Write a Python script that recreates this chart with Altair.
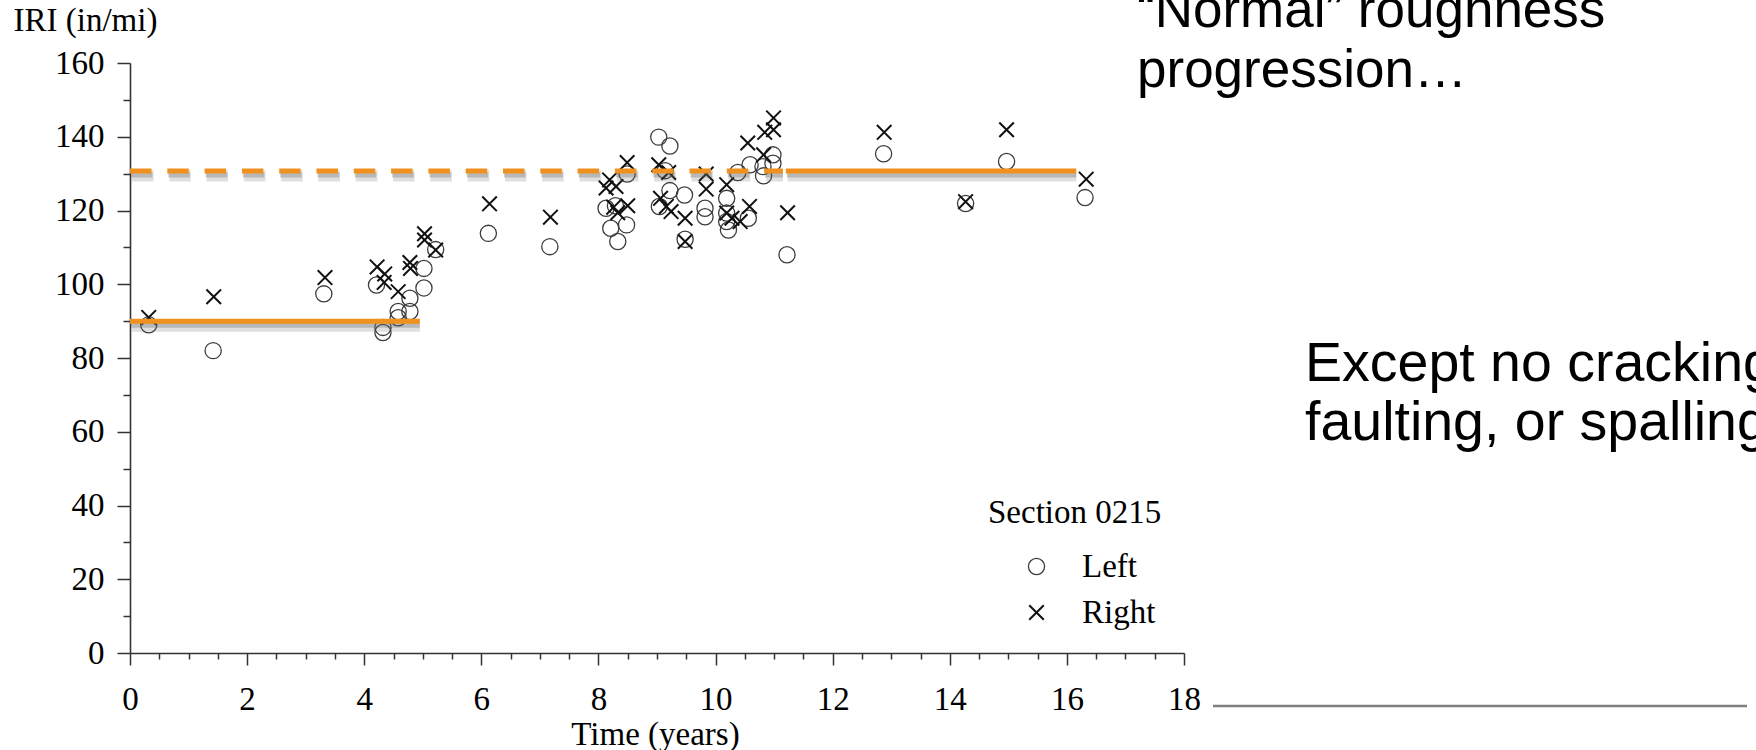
import altair as alt
import pandas as pd

# ---------------- data ----------------
side_names = ["Left", "Right"]

t_left = [0.32, 1.42, 3.31, 4.21, 4.32, 4.32, 4.58, 4.58, 4.78, 4.78, 5.02, 5.02, 5.22, 6.12, 7.17,
          8.13, 8.21, 8.29, 8.33, 8.48, 8.49,
          9.03, 9.04, 9.14, 9.22, 9.22, 9.47, 9.48,
          9.82, 9.82, 10.19, 10.19, 10.19, 10.22, 10.38,
          10.56, 10.59, 10.81, 10.82, 10.98, 10.98, 11.22,
          12.87, 14.27, 14.97, 16.31]
iri_left = [89.0, 82.0, 97.4, 99.8, 88.3, 86.9, 92.6, 90.9, 96.2, 92.6, 104.3, 99.0, 109.4, 113.8, 110.2,
            120.6, 115.2, 121.3, 111.6, 116.1, 129.9,
            139.9, 121.1, 130.8, 137.5, 125.4, 124.2, 112.2,
            120.6, 118.3, 123.3, 119.3, 117.0, 114.7, 130.3,
            117.9, 132.4, 131.9, 129.4, 135.1, 132.8, 108.0,
            135.4, 121.9, 133.3, 123.5]

t_right = [0.32, 1.43, 3.33, 4.22, 4.35, 4.34, 4.58, 4.78, 4.79, 5.03, 5.03, 5.22, 6.14, 7.18,
           8.13, 8.19, 8.26, 8.30, 8.33, 8.49, 8.50,
           9.03, 9.06, 9.16, 9.20, 9.24, 9.48, 9.48,
           9.84, 9.84, 10.19, 10.19, 10.28, 10.42, 10.55, 10.58,
           10.82, 10.84, 10.99, 10.99, 11.23,
           12.88, 14.27, 14.97, 16.33]
iri_right = [91.0, 96.6, 101.8, 104.7, 102.8, 100.5, 98.0, 105.9, 104.3, 113.7, 112.0, 109.3, 121.8, 118.2,
             126.1, 128.3, 120.9, 126.5, 119.4, 133.0, 121.3,
             132.4, 123.3, 121.1, 130.3, 119.7, 117.9, 111.6,
             129.9, 125.8, 127.0, 119.3, 117.9, 117.0, 138.3, 121.1,
             135.1, 141.2, 145.1, 141.9, 119.4,
             141.2, 122.4, 141.9, 128.5]

# orange reference segments
seg_start = [0.0, 0.0, 11.2]
seg_end = [4.95, 11.15, 16.16]
seg_level = [90.0, 130.7, 130.7]
seg_style = ["solid", "dashed", "solid"]

x_major = [0, 2, 4, 6, 8, 10, 12, 14, 16, 18]
x_minor = [v / 2 for v in range(1, 36) if v % 4 != 0]
y_major = [0, 20, 40, 60, 80, 100, 120, 140, 160]
y_minor = [10, 30, 50, 70, 90, 110, 130, 150]

legend_title = ["Section 0215"]
note_top = ["\u201cNormal\u201d roughness\nprogression\u2026"]
note_mid = ["Except no cracking,\nfaulting, or spalling"]

# ---------------- tables ----------------
pts = pd.DataFrame({
    "time": t_left + t_right,
    "iri": iri_left + iri_right,
    "side": [side_names[0]] * len(t_left) + [side_names[1]] * len(t_right),
})
segs = pd.DataFrame({"x0": seg_start, "x1": seg_end, "level": seg_level, "style": seg_style})

SERIF = "Liberation Serif"
SANS = "Liberation Sans"
ORANGE = "#F0911F"
AX = "#333333"
FS = 33
W, H = 1054, 590

xscale = alt.Scale(domain=[0, 18], nice=False, zero=True)
yscale = alt.Scale(domain=[0, 160], nice=False, zero=True)

x_axis = alt.Axis(
    orient="bottom", values=x_major, title="Time (years)", grid=False, tickSize=12,
    labelFont=SERIF, labelFontSize=FS, labelColor="#000", labelBaseline="alphabetic",
    labelPadding=44, labelOverlap=False, labelFlush=False,
    domainColor=AX, domainWidth=1.6, tickColor=AX, tickWidth=1.5,
    titleFont=SERIF, titleFontSize=FS, titleFontWeight="normal", titleColor="#000",
    titleBaseline="alphabetic", titleY=91, titleX=525, titleAlign="center",
)
y_axis = alt.Axis(
    orient="left", values=y_major, title="IRI (in/mi)", grid=False, tickSize=13,
    labelFont=SERIF, labelFontSize=FS, labelColor="#000", labelBaseline="middle",
    labelPadding=13, labelOverlap=False, labelFlush=False,
    domainColor=AX, domainWidth=1.6, tickColor=AX, tickWidth=1.5,
    titleFont=SERIF, titleFontSize=FS, titleFontWeight="normal", titleColor="#000",
    titleAngle=0, titleAlign="left", titleBaseline="alphabetic", titleX=-117, titleY=-33,
)
x_minor_axis = alt.Axis(orient="bottom", values=x_minor, title=None, labels=False, domain=False,
                        grid=False, tickSize=6, tickColor=AX, tickWidth=1.5)
y_minor_axis = alt.Axis(orient="left", values=y_minor, title=None, labels=False, domain=False,
                        grid=False, tickSize=7, tickColor=AX, tickWidth=1.5)

xpath = "M-0.9,-0.9L0.9,0.9M-0.9,0.9L0.9,-0.9"

points = alt.Chart(pts).mark_point(filled=False, size=262, opacity=1, color="#222").encode(
    x=alt.X("time:Q", scale=xscale, axis=x_axis),
    y=alt.Y("iri:Q", scale=yscale, axis=y_axis),
    shape=alt.Shape("side:N", scale=alt.Scale(domain=side_names, range=["circle", xpath]),
                    legend=alt.Legend(orient="none", legendX=890, legendY=487, title=None,
                                      labelFont=SERIF, labelFontSize=FS, labelColor="#000",
                                      symbolSize=262, symbolStrokeWidth=1.5, symbolStrokeColor="#222",
                                      labelOffset=29, rowPadding=12, padding=0)),
    stroke=alt.Stroke("side:N", scale=alt.Scale(domain=side_names, range=["#3c3c3c", "#111111"]), legend=None),
    strokeWidth=alt.StrokeWidth("side:N", scale=alt.Scale(domain=side_names, range=[1.3, 2.0]), legend=None),
)

def seg_layer(style, xaxis=None, yaxis=None, **mk):
    return alt.Chart(segs).transform_filter(f"datum.style == '{style}'").mark_rule(**mk).encode(
        x=alt.X("x0:Q", scale=xscale, axis=xaxis),
        x2="x1:Q",
        y=alt.Y("level:Q", scale=yscale, axis=yaxis),
    )

dash = [21.5, 15.8]
shadow1 = seg_layer("solid", xaxis=x_minor_axis, yaxis=y_minor_axis,
                    color="#606060", opacity=0.2, strokeWidth=11, yOffset=5, xOffset=2)
shadow2 = seg_layer("dashed", color="#606060", opacity=0.2, strokeWidth=11, yOffset=5, xOffset=2, strokeDash=dash)
shadow3 = seg_layer("solid", color="#606060", opacity=0.3, strokeWidth=5, yOffset=4, xOffset=1)
shadow4 = seg_layer("dashed", color="#606060", opacity=0.3, strokeWidth=5, yOffset=4, xOffset=1, strokeDash=dash)
solid = seg_layer("solid", color=ORANGE, strokeWidth=5)
dashed = seg_layer("dashed", color=ORANGE, strokeWidth=5, strokeDash=dash)

sec_title = alt.Chart(pd.DataFrame({"t": legend_title})).mark_text(
    align="left", baseline="alphabetic", font=SERIF, fontSize=FS, color="#000"
).encode(text="t:N", x=alt.value(858), y=alt.value(460))

txt_top = alt.Chart(pd.DataFrame({"t": note_top})).mark_text(
    align="left", baseline="alphabetic", font=SANS, fontSize=53, color="#000",
    lineBreak="\n", lineHeight=60
).encode(text="t:N", x=alt.value(1007), y=alt.value(-36))

txt_mid = alt.Chart(pd.DataFrame({"t": note_mid})).mark_text(
    align="left", baseline="alphabetic", font=SANS, fontSize=55.5, color="#000",
    lineBreak="\n", lineHeight=59
).encode(text="t:N", x=alt.value(1175), y=alt.value(318))

gray_line = alt.Chart(pd.DataFrame({"t": [0]})).mark_rule(color="#7f7f7f", strokeWidth=2.5).encode(
    x=alt.value(1083), x2=alt.value(1617), y=alt.value(643)
)

chart = alt.layer(
    points, shadow1, shadow2, shadow3, shadow4, solid, dashed,
    sec_title, txt_top, txt_mid, gray_line
).resolve_axis(x="independent", y="independent").properties(
    width=W, height=H,
    autosize=alt.AutoSizeParams(type="none"),
    padding={"left": 130, "top": 63, "right": 1756 - 130 - W, "bottom": 750 - 63 - H},
    background="white",
).configure_view(stroke=None)

chart.save("out.html", embed_options={"renderer": "svg", "actions": False})
